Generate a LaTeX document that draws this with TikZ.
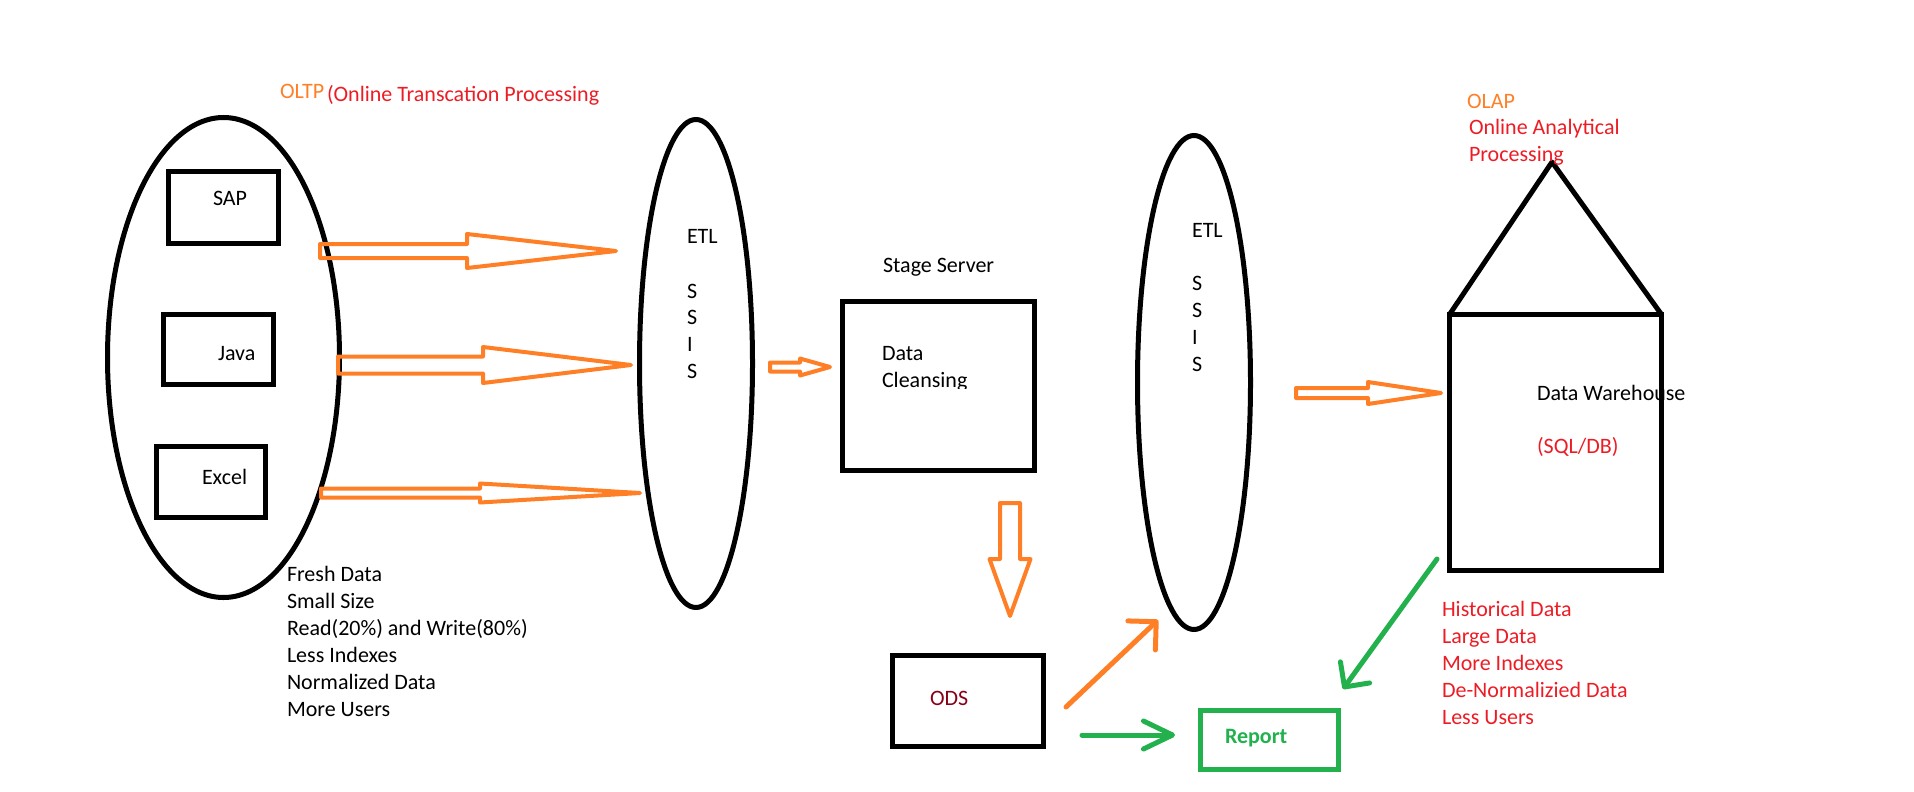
\documentclass[tikz,border=0pt]{standalone}
\usepackage{fontspec}
\setmainfont{Carlito}
\usetikzlibrary{arrows.meta,calc,shapes.geometric}
\definecolor{ppOrange}{HTML}{FF7F27}
\definecolor{ppRed}{HTML}{ED1C24}
\definecolor{ppGreen}{HTML}{22B14C}
\definecolor{ppDark}{HTML}{880015}
% horizontal block arrow: start, end, shaft half, head half, head length
\newcommand\hblock[5]{\draw[blockarrow] let \p1=(#1), \p2=(#2) in
  (\x1,\y1+#3) -- (\x2-#5,\y1+#3) -- (\x2-#5,\y1+#4) -- (\x2,\y1) --
  (\x2-#5,\y1-#4) -- (\x2-#5,\y1-#3) -- (\x1,\y1-#3) -- cycle;}
% vertical (downward) block arrow
\newcommand\vblock[5]{\draw[blockarrow] let \p1=(#1), \p2=(#2) in
  (\x1-#3,\y1) -- (\x1-#3,\y2+#5) -- (\x1-#4,\y2+#5) -- (\x1,\y2) --
  (\x1+#4,\y2+#5) -- (\x1+#3,\y2+#5) -- (\x1+#3,\y1) -- cycle;}
\begin{document}
\begin{tikzpicture}[x=1pt,y=-1pt,
  every node/.style={inner sep=0pt, outer sep=0pt, font=\fontsize{22}{27}\selectfont},
  blk/.style={draw=black, line width=5pt},
  ell/.style={ellipse, draw=black, line width=5pt},
  blockarrow/.style={draw=ppOrange, line width=4pt, line join=round},
  txt/.style={anchor=base west},
  oline/.style={draw=ppOrange, line width=5pt, line cap=round},
  gline/.style={draw=ppGreen, line width=5pt, line cap=round}]
\useasboundingbox (0,0) rectangle (1914,792);

% ellipses
\node[ell, minimum width=232pt, minimum height=480pt] (oltp) at (223.5,357.5) {};
\node[ell, minimum width=113pt, minimum height=488pt] (etl1) at (696,363.5) {};
\node[ell, minimum width=113pt, minimum height=494pt] (etl2) at (1194,382.5) {};

% boxes
\node[blk, minimum width=110pt, minimum height=72pt] (sap) at (223.5,207.5) {};
\node[blk, minimum width=110pt, minimum height=70pt] (java) at (218.5,349.5) {};
\node[blk, minimum width=109pt, minimum height=71pt] (excel) at (211,482) {};
\node[blk, minimum width=192pt, minimum height=169pt] (stage) at (938.5,386) {};
\node[blk, minimum width=151pt, minimum height=91pt] (ods) at (968,701) {};
\node[blk, draw=ppGreen, minimum width=138pt, minimum height=59pt] (report) at (1269.5,740) {};
\node[blk, minimum width=212pt, minimum height=256pt] (dw) at (1555.5,442.5) {};
\coordinate (apex) at (1552,162);
\draw[line width=5pt, line join=round] (dw.north west) -- (apex) -- (dw.north east);

% texts
\node[txt, text=ppOrange] (oltpT) at (280,98) {OLTP};
\node[txt, text=ppRed] (oltpT2) at (327,101) {(Online Transcation Processing};
\node[txt] (sapT) at (213,205) {SAP};
\node[txt] (javaT) at (218,360) {Java};
\node[txt] (excelT) at (202,484) {Excel};
\node[txt] (etl1T) at (687,243) {ETL};
\node[txt] (etl1S) at (687,298) {\vtop{\baselineskip=26.7pt\hbox{S}\hbox{S}\hbox{I}\hbox{S}}};
\node[txt] (etl2T) at (1192,237) {ETL};
\node[txt] (etl2S) at (1192,290) {\vtop{\baselineskip=27.3pt\hbox{S}\hbox{S}\hbox{I}\hbox{S}}};
\node[txt] (oltpList) at (287,581) {\vtop{\baselineskip=27pt
  \hbox{Fresh Data}\hbox{Small Size}\hbox{Read(20\%) and Write(80\%)}%
  \hbox{Less Indexes}\hbox{Normalized Data}\hbox{More Users}}};
\node[txt] (stageT) at (883,272) {Stage Server};
\begin{scope}
  \clip (842,300) rectangle (1035,388);
  \node[txt] (stageT2) at (882,360) {\vtop{\baselineskip=27pt\hbox{Data}\hbox{Cleansing}}};
\end{scope}
\node[txt, text=ppDark] (odsT) at (930,705) {ODS};
\node[txt, text=ppGreen, font=\fontsize{22}{27}\selectfont\bfseries] (reportT) at (1225,743) {Report};
\node[txt, text=ppOrange] (olapT) at (1467,108) {OLAP};
\node[txt, text=ppRed] (olapT2) at (1469,134) {\vtop{\baselineskip=27pt\hbox{Online Analytical}\hbox{Processing}}};
\node[txt] (dwT) at (1537,400) {Data Warehouse};
\node[txt, text=ppRed] (dwT2) at (1537,453) {(SQL/DB)};
\node[txt, text=ppRed] (olapList) at (1442,616) {\vtop{\baselineskip=27pt
  \hbox{Historical Data}\hbox{Large Data}\hbox{More Indexes}%
  \hbox{De-Normalizied Data}\hbox{Less Users}}};

% block arrows
\coordinate (a1s) at (320,251);  \coordinate (a1e) at (616,251);
\coordinate (a2s) at (338,365);  \coordinate (a2e) at (631,365);
\coordinate (a3s) at (321,493);  \coordinate (a3e) at (640,493);
\coordinate (a4s) at (770,367);  \coordinate (a4e) at (830,367);
\coordinate (a5s) at (1296,393); \coordinate (a5e) at (1441,393);
\coordinate (a6s) at (1010,503); \coordinate (a6e) at (1010,616);
\hblock{a1s}{a1e}{7pt}{17pt}{149pt}
\hblock{a2s}{a2e}{8.5pt}{18pt}{148pt}
\hblock{a3s}{a3e}{4.5pt}{9.5pt}{160pt}
\hblock{a4s}{a4e}{4.5pt}{8.5pt}{30pt}
\hblock{a5s}{a5e}{5pt}{11pt}{73pt}
\vblock{a6s}{a6e}{10pt}{20.5pt}{57pt}

% line arrows
\coordinate (o1) at (1066,707); \coordinate (o2) at (1158,620);
\draw[oline, -{Straight Barb[length=20pt,width=40pt,round]}] (o1) -- (o2);
\coordinate (g1) at (1082,735); \coordinate (g2) at (1175,735);
\draw[gline, -{Straight Barb[length=29pt,width=28pt,round]}] (g1) -- (g2);
\coordinate (g3) at (1437,559); \coordinate (g4) at (1343,689);
\draw[gline, -{Straight Barb[length=18pt,width=36pt,round]}] (g3) -- (g4);
\end{tikzpicture}
\end{document}
